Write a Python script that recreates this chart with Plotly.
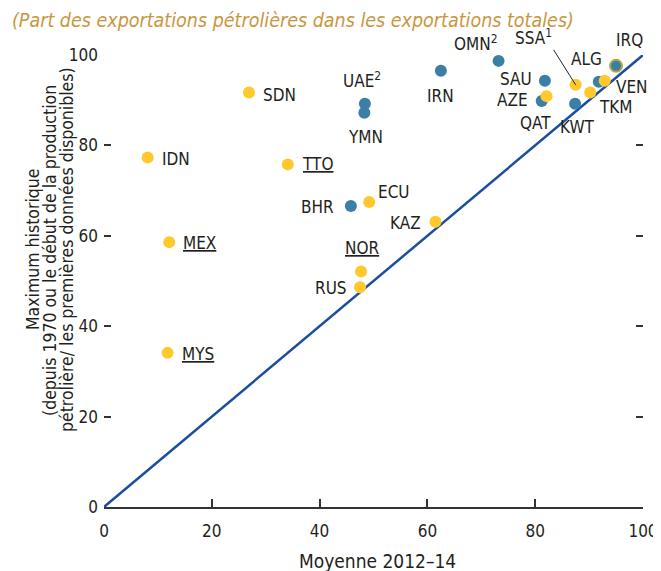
import plotly.graph_objects as go

# ---------------- data ----------------
yellow_names = ["IDN", "SDN", "TTO", "MEX", "MYS", "ECU", "KAZ", "NOR", "RUS",
                "AZE", "SSA", "TKM", "VEN"]
yellow_x = [8.1, 26.9, 34.1, 12.1, 11.8, 49.2, 61.5, 47.7, 47.5, 82.1, 87.5, 90.2, 92.9]
yellow_y = [77.3, 91.7, 75.8, 58.6, 34.1, 67.5, 63.1, 52.1, 48.6, 90.9, 93.4, 91.7, 94.3]

blue_names = ["IRN", "OMN", "SAU", "QAT", "KWT", "ALG", "IRQ", "UAE", "YMN", "BHR"]
blue_x = [62.5, 73.2, 81.8, 81.2, 87.4, 91.8, 95.0, 48.4, 48.3, 45.8]
blue_y = [96.5, 98.7, 94.3, 89.8, 89.2, 94.1, 97.6, 89.2, 87.2, 66.6]

diag_x = [0, 100]
diag_y = [0, 100]

x_ticks = [0, 20, 40, 60, 80, 100]
y_ticks = [0, 20, 40, 60, 80, 100]

label_text = {"TTO": "<u>TTO</u>", "MEX": "<u>MEX</u>", "MYS": "<u>MYS</u>",
              "NOR": "<u>NOR</u>", "UAE": "UAE<sup>2</sup>", "OMN": "OMN<sup>2</sup>",
              "SSA": "SSA<sup>1</sup>"}

# label placement (anchor, xshift px, yshift px) relative to each point
label_pos = {
    "IDN": ("left", 12, -1), "SDN": ("left", 12, -2), "TTO": ("left", 12, 0),
    "MEX": ("left", 12, -1), "MYS": ("left", 12, -1), "ECU": ("left", 7, 10),
    "BHR": ("right", -15, -1), "KAZ": ("right", -12, -1), "NOR": ("center", 1, 24),
    "RUS": ("right", -11, -1), "UAE": ("center", -3, 24), "YMN": ("center", 1, -24),
    "IRN": ("center", 0, -25), "OMN": ("right", 1, 18), "ALG": ("center", -12, 23),
    "IRQ": ("center", 13, 26), "SAU": ("right", -11, 2), "AZE": ("right", -17, -4),
    "QAT": ("center", -6, -22), "KWT": ("center", 2, -23), "VEN": ("left", 9, -6),
    "TKM": ("center", 26, -14),
}

FONT = "DejaVu Sans Condensed, DejaVu Sans, sans-serif"
TXT = "#231F20"
GOLD = "#C9963E"
YELLOW = "#FFC82C"
BLUE = "#3B7EA6"
LBL = 17

fig = go.Figure()

fig.add_trace(go.Scatter(x=diag_x, y=diag_y, mode="lines",
                         line=dict(color="#1B4F9E", width=2.5),
                         hoverinfo="skip", showlegend=False))

blue_line_colors = ["#B5A642" if n == "IRQ" else BLUE for n in blue_names]
blue_line_widths = [2 if n == "IRQ" else 0 for n in blue_names]
fig.add_trace(go.Scatter(x=blue_x, y=blue_y, mode="markers", text=blue_names,
                         marker=dict(color=BLUE, size=12,
                                     line=dict(color=blue_line_colors, width=blue_line_widths)),
                         showlegend=False, cliponaxis=False))
fig.add_trace(go.Scatter(x=yellow_x, y=yellow_y, mode="markers", text=yellow_names,
                         marker=dict(color=YELLOW, size=12, line=dict(width=0)),
                         showlegend=False, cliponaxis=False))
# helper trace so that the right-hand tick axis is drawn
fig.add_trace(go.Scatter(x=[None], y=[None], yaxis="y2", showlegend=False,
                         hoverinfo="skip"))

annotations = []
for names, xs, ys in ((blue_names, blue_x, blue_y), (yellow_names, yellow_x, yellow_y)):
    for n, xv, yv in zip(names, xs, ys):
        txt = label_text.get(n, n)
        if n == "SSA":
            annotations.append(dict(x=xv, y=yv, xref="x", yref="y", text=txt,
                                    showarrow=True, arrowhead=0, arrowwidth=1,
                                    arrowcolor="#222", ax=-22, ay=-35,
                                    xanchor="right", yanchor="bottom",
                                    font=dict(family=FONT, size=LBL, color=TXT)))
            continue
        anc, xs_, ys_ = label_pos[n]
        annotations.append(dict(x=xv, y=yv, xref="x", yref="y", text=txt,
                                showarrow=False, xanchor=anc, yanchor="middle",
                                xshift=xs_, yshift=ys_,
                                font=dict(family=FONT, size=LBL, color=TXT)))

# subtitle
annotations.append(dict(x=-0.1744, y=1.0774, xref="paper", yref="paper",
                        text="<i>(Part des exportations pétrolières dans les exportations totales)</i>",
                        showarrow=False, xanchor="left", yanchor="middle",
                        font=dict(family=FONT, size=19.5, color=GOLD)))
# y-axis title, three lines
ytitle_lines = ["Maximum historique",
                "(depuis 1970 ou le début de la production",
                "pétrolière/ les premières données disponibles)"]
for line, xp in zip(ytitle_lines, [-0.1317, -0.1002, -0.0686]):
    annotations.append(dict(x=xp, y=0.5686, xref="paper", yref="paper", text=line,
                            textangle=-90, showarrow=False, xanchor="center",
                            yanchor="middle",
                            font=dict(family=FONT, size=17.5, color=TXT)))
# x-axis title
annotations.append(dict(x=0.507, y=-0.12, xref="paper", yref="paper",
                        text="Moyenne 2012–14", showarrow=False,
                        xanchor="center", yanchor="middle",
                        font=dict(family=FONT, size=19, color=TXT)))

fig.update_layout(
    width=653, height=563, autosize=False,
    margin=dict(l=96, r=18, t=47, b=64, pad=0),
    paper_bgcolor="white", plot_bgcolor="white",
    font=dict(family=FONT, size=16, color=TXT),
    xaxis=dict(range=[0, 100], tickvals=x_ticks, ticks="inside", ticklen=8,
               tickwidth=1.5, tickcolor="#333", showline=True, linecolor="#333",
               linewidth=1.5, showgrid=False, zeroline=False, automargin=False,
               ticklabelstandoff=8, tickfont=dict(size=17, color=TXT)),
    yaxis=dict(range=[0, 100], tickvals=y_ticks, ticks="inside", ticklen=7,
               tickwidth=1.5, tickcolor="#333", showline=False, showgrid=False,
               zeroline=False, automargin=False, ticklabelstandoff=5,
               tickfont=dict(size=17, color=TXT)),
    yaxis2=dict(range=[0, 100], overlaying="y", side="right", anchor="x",
                tickvals=y_ticks[1:], ticks="inside", ticklen=7, tickwidth=1.5,
                tickcolor="#333", showticklabels=False, showline=False,
                showgrid=False, zeroline=False, automargin=False),
    annotations=annotations,
)

fig.write_html("out.html")
